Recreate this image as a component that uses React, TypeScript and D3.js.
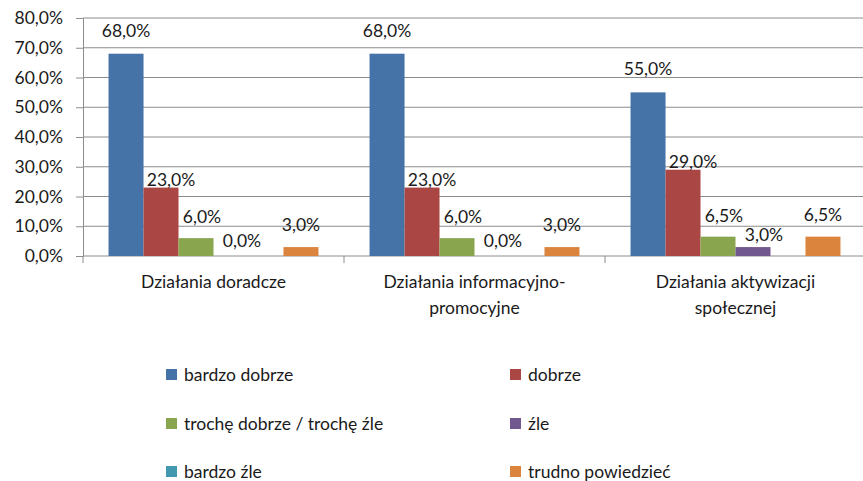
import React, { useEffect, useRef } from 'react';
import * as d3 from 'd3';

// categories (x axis), with line breaks as in the original
const categories = ['Działania doradcze', 'Działania informacyjno-promocyjne', 'Działania aktywizacji społecznej'];
const categoryLines = [
  ['Działania doradcze'],
  ['Działania informacyjno-', 'promocyjne'],
  ['Działania aktywizacji', 'społecznej'],
];

const seriesNames = ['bardzo dobrze', 'dobrze', 'trochę dobrze / trochę źle', 'źle', 'bardzo źle', 'trudno powiedzieć'];
const seriesColors = ['#4572A7', '#AA4643', '#89A54E', '#71588F', '#4198AF', '#DB843D'];

// values in %, one array per series (per category)
const bardzoDobrze = [68.0, 68.0, 55.0];
const dobrze = [23.0, 23.0, 29.0];
const trocheDobrze = [6.0, 6.0, 6.5];
const zle = [0.0, 0.0, 3.0];
const bardzoZle = [null, null, null];
const trudnoPowiedziec = [3.0, 3.0, 6.5];

const seriesValues: (number | null)[][] = [bardzoDobrze, dobrze, trocheDobrze, zle, bardzoZle, trudnoPowiedziec];

const yTicks = [0, 10, 20, 30, 40, 50, 60, 70, 80];

const W = 863;
const H = 481;
const FONT = 'Lato, "Open Sans", sans-serif';
const FS = '17.5px';
const TXT = '#1a1a1a';

const fmt = (v: number) => v.toFixed(1).replace('.', ',') + '%';

export default function App() {
  const svgRef = useRef<SVGSVGElement>(null);

  useEffect(() => {
    if (!svgRef.current) return;
    const svg = d3.select(svgRef.current);
    svg.selectAll('*').remove();

    const plot = { left: 83, right: 866, top: 18, bottom: 256 };

    const x = d3.scaleBand<string>()
      .domain(categories)
      .range([plot.left, plot.right]);

    const inner = d3.scaleBand<string>()
      .domain(seriesNames)
      .range([0, x.bandwidth()])
      .paddingOuter(0.73)
      .paddingInner(0);

    const y = d3.scaleLinear()
      .domain([0, 80])
      .range([plot.bottom, plot.top]);

    // gridlines
    svg.append('g')
      .selectAll('line')
      .data(yTicks.filter(t => t > 0))
      .enter().append('line')
      .attr('x1', plot.left)
      .attr('x2', plot.right)
      .attr('y1', d => y(d))
      .attr('y2', d => y(d))
      .attr('stroke', '#8c8c8c')
      .attr('stroke-width', 1);

    // y axis
    const yAxis = svg.append('g')
      .attr('transform', `translate(${plot.left},0)`)
      .call(d3.axisLeft(y).tickValues(yTicks).tickSize(7).tickPadding(13).tickFormat(d => fmt(+d)));
    yAxis.select('.domain').attr('stroke', '#8c8c8c');
    yAxis.selectAll('.tick line').attr('stroke', '#8c8c8c');
    yAxis.selectAll('text')
      .style('font-family', FONT)
      .style('font-size', FS)
      .attr('fill', TXT);

    // x axis baseline + separators
    svg.append('line')
      .attr('x1', plot.left).attr('x2', plot.right)
      .attr('y1', plot.bottom).attr('y2', plot.bottom)
      .attr('stroke', '#8c8c8c');
    svg.append('g')
      .selectAll('line')
      .data(categories)
      .enter().append('line')
      .attr('x1', d => x(d) || 0)
      .attr('x2', d => x(d) || 0)
      .attr('y1', plot.bottom)
      .attr('y2', plot.bottom + 7)
      .attr('stroke', '#8c8c8c');

    // bars
    const groups = svg.append('g')
      .selectAll('g')
      .data(categories)
      .enter().append('g')
      .attr('transform', d => `translate(${x(d)},0)`);

    // label nudges per series (to avoid overlaps, as in the original)
    const nudgeX = [0, 10, 6, 11, 0, 0];
    const nudgeY = [17, 2, 15, 6, 0, 16];

    groups.each(function (cat, ci) {
      const g = d3.select(this);
      seriesNames.forEach((s, si) => {
        const v = seriesValues[si][ci];
        if (v == null) return;
        const bx = inner(s) || 0;
        g.append('rect')
          .attr('x', bx)
          .attr('y', y(v))
          .attr('width', inner.bandwidth())
          .attr('height', plot.bottom - y(v))
          .attr('fill', seriesColors[si]);
        g.append('text')
          .attr('x', bx + inner.bandwidth() / 2 + nudgeX[si])
          .attr('y', y(v) - (si === 3 && v === 0 ? 9 : nudgeY[si]))
          .attr('text-anchor', 'middle')
          .style('font-family', FONT)
          .style('font-size', FS)
          .attr('fill', TXT)
          .text(fmt(v));
      });
    });

    // category labels
    svg.append('g')
      .selectAll('text')
      .data(categories)
      .enter().append('text')
      .attr('x', d => (x(d) || 0) + x.bandwidth() / 2)
      .attr('y', 288)
      .attr('text-anchor', 'middle')
      .style('font-family', FONT)
      .style('font-size', FS)
      .attr('fill', TXT)
      .each(function (d, i) {
        const t = d3.select(this);
        categoryLines[i].forEach((line, li) => {
          t.append('tspan')
            .attr('x', (x(d) || 0) + x.bandwidth() / 2)
            .attr('dy', li === 0 ? 0 : 26)
            .text(line);
        });
      });

    // legend
    const legend = svg.append('g');
    const colX = [166, 510];
    const rowY = [381, 430, 478];
    seriesNames.forEach((s, i) => {
      const lx = colX[i % 2];
      const ly = rowY[Math.floor(i / 2)];
      legend.append('rect')
        .attr('x', lx)
        .attr('y', ly - 12)
        .attr('width', 11)
        .attr('height', 11)
        .attr('fill', seriesColors[i]);
      legend.append('text')
        .attr('x', lx + 18)
        .attr('y', ly)
        .style('font-family', FONT)
        .style('font-size', FS)
        .attr('fill', TXT)
        .text(s);
    });
  }, []);

  return (
    <svg ref={svgRef} width={W} height={H} style={{ position: 'absolute', left: 0, top: 0, background: '#fff' }} />
  );
}
